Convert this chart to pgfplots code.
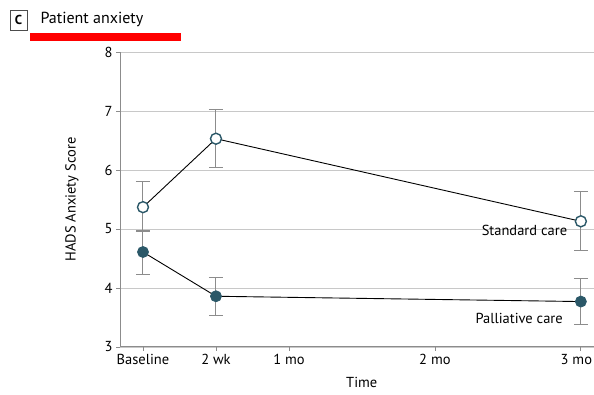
\documentclass[border=0pt]{standalone}
\usepackage{pgfplots}
\pgfplotsset{compat=1.18}
\usepackage{fontspec}
\setmainfont{PT Sans}
\definecolor{teal}{HTML}{2B5868}
\definecolor{axgray}{HTML}{8C8C8C}
\definecolor{gridgray}{HTML}{C8C8C8}
\begin{document}
\begin{tikzpicture}
\useasboundingbox (0pt,0pt) rectangle (594pt,395pt);
\draw[black!70, line width=0.8pt] (10pt,365pt) rectangle (27pt,385pt);
\node[font=\fontsize{13}{15}\selectfont\bfseries] at (18.5pt,375pt) {C};
\node[anchor=west, font=\fontsize{16}{18}\selectfont] at (37pt,375.5pt) {Patient anxiety};
\fill[red] (30pt,354pt) rectangle (181pt,362pt);
\begin{axis}[
  at={(120pt,48pt)}, anchor=south west,
  scale only axis, width=474pt, height=295pt,
  xmin=-0.63, xmax=12.36, ymin=3, ymax=8,
  axis x line=bottom, axis y line=left,
  axis line style={axgray, line width=1pt, -},
  xtick={0,2,4,8,12},
  xticklabels={Baseline,2 wk,1 mo,2 mo,3 mo\hspace*{9pt}},
  ytick={3,4,5,6,7,8},
  ymajorgrids, grid style={gridgray, line width=0.8pt},
  tick style={axgray, line width=0.8pt},
  tick align=outside, major tick length=4pt,
  ticklabel style={font=\fontsize{14.5}{16}\selectfont},
  /pgf/number format/assume math mode=true,
  xlabel={Time}, ylabel={HADS Anxiety Score},
  label style={font=\fontsize{14.5}{16}\selectfont},
  ylabel style={at={(axis description cs:-0.08,0.5)}},
  xlabel style={at={(axis description cs:0.51,-0.1)}, inner sep=1pt},
  clip=false,
]
\addplot[black, line width=0.9pt, mark=*, mark size=5.5pt,
  mark options={fill=white, draw=teal, line width=1.4pt},
  error bars/.cd, y dir=both, y explicit,
  error bar style={axgray, line width=1pt},
  error mark options={axgray, line width=1pt, rotate=90, mark size=7pt}]
  coordinates {(0,5.37) -= (0,0.39) += (0,0.43)
               (2,6.53) -= (0,0.48) += (0,0.50)
               (12,5.13) -= (0,0.49) += (0,0.51)};
\addplot[black, line width=0.9pt, mark=*, mark size=5.5pt,
  mark options={fill=teal, draw=teal, line width=0.8pt},
  error bars/.cd, y dir=both, y explicit,
  error bar style={axgray, line width=1pt},
  error mark options={axgray, line width=1pt, rotate=90, mark size=7pt}]
  coordinates {(0,4.61) -= (0,0.38) += (0,0.34)
               (2,3.86) -= (0,0.33) += (0,0.32)
               (12,3.77) -= (0,0.39) += (0,0.39)};
\node[anchor=east, font=\fontsize{14.5}{16}\selectfont] at (axis cs:11.72,4.97) {Standard care};
\node[anchor=east, font=\fontsize{14.5}{16}\selectfont] at (axis cs:11.6,3.49) {Palliative care};
\end{axis}
\end{tikzpicture}
\end{document}
